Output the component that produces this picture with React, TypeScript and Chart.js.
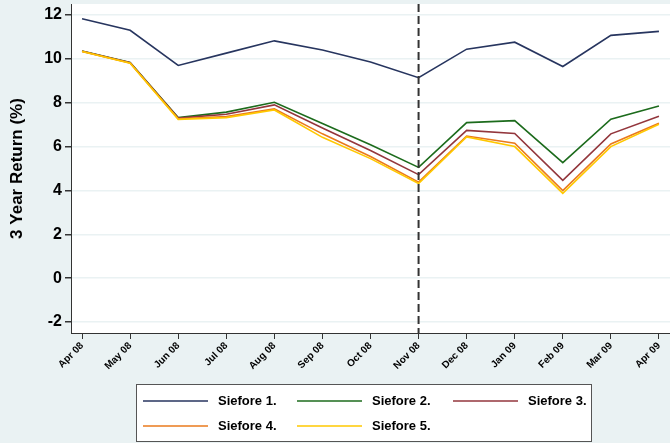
import React, { useEffect, useRef } from "react";
import { Chart, registerables } from "chart.js";
Chart.register(...registerables);

const months = ["Apr 08", "May 08", "Jun 08", "Jul 08", "Aug 08", "Sep 08", "Oct 08", "Nov 08", "Dec 08", "Jan 09", "Feb 09", "Mar 09", "Apr 09"];
const seriesNames = ["Siefore 1.", "Siefore 2.", "Siefore 3.", "Siefore 4.", "Siefore 5."];
const siefore1 = [11.83, 11.3, 9.7, 10.26, 10.82, 10.4, 9.86, 9.14, 10.44, 10.76, 9.65, 11.07, 11.25];
const siefore2 = [10.36, 9.83, 7.32, 7.57, 8.02, 7.05, 6.08, 5.05, 7.09, 7.18, 5.27, 7.25, 7.85];
const siefore3 = [10.35, 9.82, 7.3, 7.47, 7.9, 6.85, 5.82, 4.72, 6.74, 6.6, 4.46, 6.58, 7.38];
const siefore4 = [10.34, 9.81, 7.27, 7.37, 7.72, 6.58, 5.55, 4.38, 6.48, 6.15, 3.99, 6.12, 7.06];
const siefore5 = [10.33, 9.8, 7.24, 7.32, 7.67, 6.42, 5.45, 4.32, 6.44, 6.0, 3.87, 6.0, 7.02];
const yTicks = [-2, 0, 2, 4, 6, 8, 10, 12];
const eventMonth = "Nov 08";

const colors = ["#27355f", "#1c6b1c", "#93363c", "#ea7a1c", "#ffc800"];
const FONT = "'Liberation Sans', Arial, sans-serif";

export default function App() {
  const ref = useRef<HTMLCanvasElement>(null);
  useEffect(() => {
    const allSeries = [siefore1, siefore2, siefore3, siefore4, siefore5];
    const bgPlugin = {
      id: "bg",
      beforeDraw(chart: any) {
        const { ctx, chartArea } = chart;
        ctx.save();
        ctx.fillStyle = "#eaf2f3";
        ctx.fillRect(0, 0, chart.width, chart.height);
        ctx.fillStyle = "#ffffff";
        ctx.fillRect(chartArea.left, chartArea.top, chartArea.right - chartArea.left, chartArea.bottom - chartArea.top);
        ctx.restore();
      },
      afterDatasetsDraw(chart: any) {
        const { ctx, chartArea, scales } = chart;
        const x = scales.x.getPixelForValue(months.indexOf(eventMonth));
        ctx.save();
        ctx.strokeStyle = "#333333";
        ctx.lineWidth = 2;
        ctx.setLineDash([8, 4]);
        ctx.beginPath();
        ctx.moveTo(x, chartArea.top);
        ctx.lineTo(x, chartArea.bottom);
        ctx.stroke();
        ctx.restore();
      },
      afterDraw(chart: any) {
        const ctx = chart.ctx;
        ctx.save();
        const bx = 136, by = 384, bw = 455, bh = 57;
        ctx.fillStyle = "#ffffff";
        ctx.fillRect(bx, by, bw, bh);
        ctx.strokeStyle = "#555555";
        ctx.lineWidth = 1;
        ctx.strokeRect(bx + 0.5, by + 0.5, bw, bh);
        const colX = [143, 297, 453];
        const rowY = [401, 426];
        ctx.font = `bold 13px ${FONT}`;
        ctx.textBaseline = "middle";
        seriesNames.forEach((name, i) => {
          const c = i % 3, r = Math.floor(i / 3);
          const x0 = colX[c], y0 = rowY[r];
          ctx.strokeStyle = colors[i];
          ctx.lineWidth = 1.5;
          ctx.beginPath();
          ctx.moveTo(x0, y0);
          ctx.lineTo(x0 + 65, y0);
          ctx.stroke();
          ctx.fillStyle = "#000000";
          ctx.fillText(name, x0 + 75, y0);
        });
        ctx.restore();
      },
    };
    const chart = new Chart(ref.current!, {
      type: "line",
      data: {
        datasets: allSeries.map((s, i) => ({
          label: seriesNames[i],
          data: s.map((v, j) => ({ x: j, y: v })),
          borderColor: colors[i],
          backgroundColor: colors[i],
          borderWidth: 1.6,
          pointRadius: 0,
          tension: 0,
          order: 5 - i,
        })),
      },
      options: {
        responsive: false,
        animation: false,
        devicePixelRatio: 1,
        layout: { padding: { top: 4, left: 0, right: 0, bottom: 0 } },
        plugins: { legend: { display: false }, tooltip: { enabled: false } },
        scales: {
          x: {
            type: "linear",
            min: -0.23,
            max: months.length - 1 + 0.23,
            afterBuildTicks: (scale: any) => {
              scale.ticks = months.map((_, i) => ({ value: i }));
            },
            afterFit: (scale: any) => {
              scale.height = 110;
              scale.paddingLeft = 0;
              scale.paddingRight = 0;
            },
            grid: { drawOnChartArea: false, tickLength: 6, tickColor: "#333333", color: "#333333" },
            border: { color: "#333333", width: 1 },
            ticks: {
              autoSkip: false,
              maxRotation: 45,
              minRotation: 45,
              padding: 1,
              color: "#000000",
              font: { family: FONT, size: 10, weight: "bold" },
              callback: (v: any) => months[Math.round(Number(v))] ?? "",
            },
          },
          y: {
            min: -2.5,
            max: 12.5,
            afterBuildTicks: (scale: any) => {
              scale.ticks = yTicks.map((v) => ({ value: v }));
            },
            afterFit: (scale: any) => {
              scale.width = 71;
              scale.paddingTop = 0;
              scale.paddingBottom = 0;
            },
            grid: { color: "#eaf2f3", lineWidth: 1.5, tickLength: 6, tickColor: "#333333" },
            border: { color: "#333333", width: 1 },
            ticks: {
              padding: 3,
              color: "#000000",
              font: { family: FONT, size: 16, weight: "bold" },
            },
            title: {
              display: true,
              text: "3 Year Return (%)",
              color: "#000000",
              padding: { top: 7, bottom: 0 },
              font: { family: FONT, size: 17, weight: "bold" },
            },
          },
        },
      },
      plugins: [bgPlugin],
    } as any);
    return () => chart.destroy();
  }, []);
  return (
    <div style={{ position: "absolute", left: 0, top: 0, width: 670, height: 443 }}>
      <canvas ref={ref} width={670} height={443} style={{ width: 670, height: 443 }} />
    </div>
  );
}
